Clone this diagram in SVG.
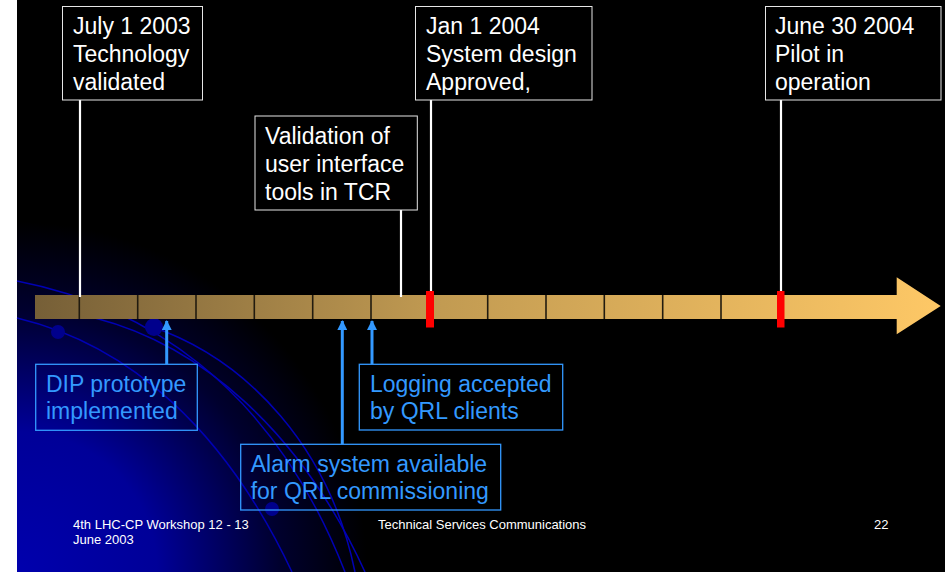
<svg xmlns="http://www.w3.org/2000/svg" width="951" height="572" viewBox="0 0 951 572">
<defs>
<radialGradient id="bgBlue" gradientUnits="userSpaceOnUse" cx="17" cy="572" r="350">
<stop offset="0" stop-color="#0000ad"/>
<stop offset="0.4" stop-color="#000098"/>
<stop offset="0.75" stop-color="#00002e"/>
<stop offset="1" stop-color="#000000"/>
</radialGradient>
<linearGradient id="barGrad" gradientUnits="userSpaceOnUse" x1="35" y1="0" x2="941" y2="0">
<stop offset="0" stop-color="#765f37"/>
<stop offset="0.45" stop-color="#c29b52"/>
<stop offset="1" stop-color="#fec866"/>
</linearGradient>
<marker id="blueHead" viewBox="0 0 10 10" refX="9" refY="5" markerWidth="3.4" markerHeight="3.4" orient="auto" markerUnits="strokeWidth">
<path d="M0,0 L10,5 L0,10 z" fill="#3399ff"/>
</marker>
<style>
.wbox{fill:#000;stroke:#e6e6e6;stroke-width:1}
.bbox{fill:none;stroke:#3399ff;stroke-width:1.3}
.wt{font-family:"Liberation Sans",Arial,sans-serif;font-size:23px;fill:#ffffff}
.bt{font-family:"Liberation Sans",Arial,sans-serif;font-size:23px;fill:#3399ff}
.ft{font-family:"Liberation Sans",Arial,sans-serif;font-size:13px;fill:#ffffff}
.wline{stroke:#ffffff;stroke-width:2.2;fill:none}
.bline{stroke:#3399ff;stroke-width:3;fill:none}
.sep{stroke:#211b0f;stroke-width:1.6}
.deco{fill:none;stroke:#0000b4;stroke-width:1.5}
.dot{fill:#00008c}
</style>
</defs>

<!-- page -->
<rect x="0" y="0" width="951" height="572" fill="#ffffff"/>
<rect x="17" y="0" width="928" height="572" fill="#000000"/>
<rect x="17" y="0" width="928" height="572" fill="url(#bgBlue)"/>

<!-- decorative curves -->
<g id="decoration">
<path class="deco" d="M17,281 C140,305 270,380 345,572"/>
<path class="deco" d="M17,318 C130,345 225,430 292,572"/>
<path class="deco" d="M95,318 C200,345 300,430 365,572"/>
<path class="deco" d="M150,326 C250,360 330,450 355,572"/>
<circle class="dot" cx="58" cy="332" r="7"/>
<circle class="dot" cx="154" cy="327" r="9"/>
<circle class="dot" cx="272" cy="509" r="7"/>
</g>

<!-- timeline arrow -->
<g id="timeline">
<polygon points="35,295 896.7,295 896.7,277.3 940.7,306 896.7,334.3 896.7,319 35,319" fill="url(#barGrad)"/>
<g class="sep">
<line x1="79.3" y1="295" x2="79.3" y2="319"/>
<line x1="137.7" y1="295" x2="137.7" y2="319"/>
<line x1="196" y1="295" x2="196" y2="319"/>
<line x1="254.3" y1="295" x2="254.3" y2="319"/>
<line x1="312.7" y1="295" x2="312.7" y2="319"/>
<line x1="371" y1="295" x2="371" y2="319"/>
<line x1="429.3" y1="295" x2="429.3" y2="319"/>
<line x1="487.7" y1="295" x2="487.7" y2="319"/>
<line x1="546" y1="295" x2="546" y2="319"/>
<line x1="604.3" y1="295" x2="604.3" y2="319"/>
<line x1="662.7" y1="295" x2="662.7" y2="319"/>
<line x1="721" y1="295" x2="721" y2="319"/>
</g>
<rect x="426" y="291" width="8" height="36.5" fill="#ff0000"/>
<rect x="777" y="291" width="7.5" height="36.5" fill="#ff0000"/>
</g>

<!-- connectors -->
<g id="connectors">
<line class="wline" x1="80" y1="100" x2="80" y2="297"/>
<line class="wline" x1="401" y1="210" x2="401" y2="297"/>
<line class="wline" x1="431" y1="100" x2="431" y2="291"/>
<line class="wline" x1="781" y1="100" x2="781" y2="291"/>
<line class="bline" x1="166.7" y1="364" x2="166.7" y2="321" marker-end="url(#blueHead)"/>
<line class="bline" x1="342.3" y1="444" x2="342.3" y2="321" marker-end="url(#blueHead)"/>
<line class="bline" x1="372" y1="364" x2="372" y2="321" marker-end="url(#blueHead)"/>
</g>

<!-- white milestone boxes -->
<g id="july2003">
<rect class="wbox" x="62.5" y="6.5" width="140" height="93.5"/>
<text class="wt" x="73" y="34">July 1 2003</text>
<text class="wt" x="73" y="62">Technology</text>
<text class="wt" x="73" y="90">validated</text>
</g>
<g id="jan2004">
<rect class="wbox" x="415.5" y="6.5" width="176.5" height="93.5"/>
<text class="wt" x="426" y="34">Jan 1 2004</text>
<text class="wt" x="426" y="62">System design</text>
<text class="wt" x="426" y="90">Approved,</text>
</g>
<g id="june2004">
<rect class="wbox" x="765.5" y="6.5" width="175.5" height="93.5"/>
<text class="wt" x="775" y="34">June 30 2004</text>
<text class="wt" x="775" y="62">Pilot in</text>
<text class="wt" x="775" y="90">operation</text>
</g>
<g id="tcr">
<rect class="wbox" x="255" y="116" width="162.3" height="94"/>
<text class="wt" x="265" y="144">Validation of</text>
<text class="wt" x="265" y="172">user interface</text>
<text class="wt" x="265" y="200">tools in TCR</text>
</g>

<!-- blue event boxes -->
<g id="dip">
<rect class="bbox" x="35.7" y="364.3" width="161.6" height="66"/>
<text class="bt" x="46" y="391.5">DIP prototype</text>
<text class="bt" x="46" y="419">implemented</text>
</g>
<g id="logging">
<rect class="bbox" x="359.3" y="364.3" width="203.4" height="65.7"/>
<text class="bt" x="370" y="391.5">Logging accepted</text>
<text class="bt" x="370" y="419">by QRL clients</text>
</g>
<g id="alarm">
<rect class="bbox" x="240.7" y="444.3" width="260" height="65.7"/>
<text class="bt" x="250.7" y="471.5">Alarm system available</text>
<text class="bt" x="250.7" y="499">for QRL commissioning</text>
</g>

<!-- footer -->
<g id="footer">
<text class="ft" x="73" y="529">4th LHC-CP Workshop 12 - 13</text>
<text class="ft" x="73" y="544">June 2003</text>
<text class="ft" x="378" y="529">Technical Services Communications</text>
<text class="ft" x="874" y="529">22</text>
</g>
</svg>
